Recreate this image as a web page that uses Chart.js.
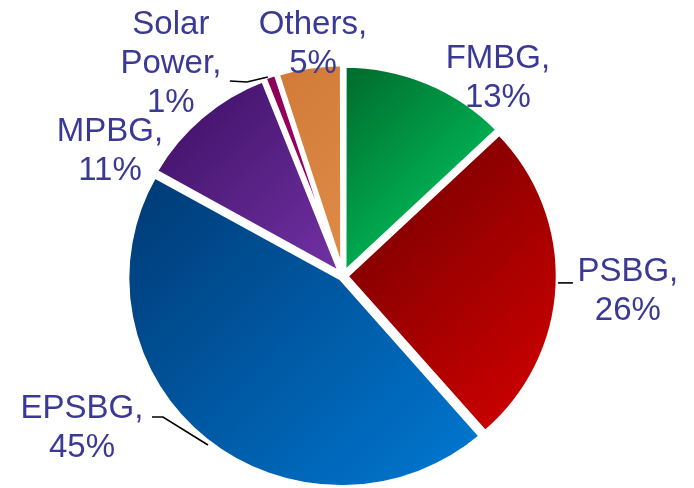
<!DOCTYPE html>
<html><head><meta charset="utf-8">
<script src="https://cdn.jsdelivr.net/npm/chart.js@4.4.1/dist/chart.umd.min.js"></script>
<style>html,body{margin:0;padding:0;background:#fff;}#wrap{width:694px;height:488px;}</style>
</head><body><div id="wrap"><canvas id="c" width="694" height="488"></canvas></div>
<script>
// ---- data ----
const categories = ['FMBG', 'PSBG', 'EPSBG', 'MPBG', 'Solar Power', 'Others'];
const shares = [13, 26, 45, 11, 1, 5];

// ---- styles ----
const darkColors  = ['#006a2c', '#8a0000', '#003c78', '#471670', '#8a0056', '#d27b39'];
const lightColors = ['#00aa50', '#c80000', '#0074cc', '#7131a3', '#b0006c', '#e08b47'];
const RADIUS = 207, OFFSET = 12, BORDER = 4.5;
const SHIFT = OFFSET / 4;      // Chart.js translates an arc by offset/4
const SX = 1.024;              // slight horizontal stretch of the pie
const LABEL_PAD = 5;
const FONT = '33px "Liberation Sans", Arial, sans-serif';
const LINE_H = 39;
const TEXT_COLOR = '#3a3a96';
// label block nudge from the slice's outer mid point
const labelNudge = [[69.5, -2.6], [68, 5.6], [-123.8, -12.3], [-90.6, 35], [-99.3, -12.7], [3.6, -21.9]];
// leader polylines relative to the slice's outer mid point
const leaders = [null, [[-1.9, -3], [13.1, -3]], [[2.2, 4.7], [-42.8, -23.3], [-53.8, -23.3]], null,
                 [[-2.3, 0.7], [-23.3, 5.7], [-40.3, 4.7]], null];

function labelLines(i) {
  const words = categories[i].split(' ');
  words[words.length - 1] += ',';
  return words.concat([shares[i] + '%']);
}

function sliceFill(c) {
  const i = c.dataIndex, chart = c.chart, area = chart.chartArea;
  if (!area) return darkColors[i];
  const cx = (area.left + area.right) / 2, cy = (area.top + area.bottom) / 2;
  const total = shares.reduce((a, b) => a + b, 0);
  let cum = 0; for (let k = 0; k < i; k++) cum += shares[k];
  const a0 = -Math.PI / 2 + 2 * Math.PI * cum / total;
  const a1 = a0 + 2 * Math.PI * shares[i] / total;
  const mid = (a0 + a1) / 2;
  const ox = cx + SHIFT * Math.cos(mid), oy = cy + SHIFT * Math.sin(mid);
  let mn = ox + oy, mx = ox + oy;
  for (let s = 0; s <= 32; s++) {
    const a = a0 + (a1 - a0) * s / 32;
    const v = ox + RADIUS * Math.cos(a) + oy + RADIUS * Math.sin(a);
    mn = Math.min(mn, v); mx = Math.max(mx, v);
  }
  const g = chart.ctx.createLinearGradient(mn / 2, mn / 2, mx / 2, mx / 2);
  g.addColorStop(0, darkColors[i]);
  g.addColorStop(1, lightColors[i]);
  return g;
}

const labelPlugin = {
  id: 'sliceLabels',
  beforeDatasetsDraw(chart) {
    const ctx = chart.ctx, a = chart.chartArea;
    const cx = (a.left + a.right) / 2;
    ctx.save();
    ctx.translate(cx, 0); ctx.scale(SX, 1); ctx.translate(-cx, 0);
  },
  afterDatasetsDraw(chart) {
    const ctx = chart.ctx, meta = chart.getDatasetMeta(0);
    ctx.restore();
    ctx.save();
    ctx.font = FONT; ctx.fillStyle = TEXT_COLOR;
    ctx.textAlign = 'center'; ctx.textBaseline = 'middle';
    ctx.strokeStyle = '#000'; ctx.lineWidth = 1.6;
    meta.data.forEach((arc, i) => {
      const p = arc.getProps(['x', 'y', 'startAngle', 'endAngle', 'outerRadius'], true);
      const mid = (p.startAngle + p.endAngle) / 2;
      const r = p.outerRadius + LABEL_PAD;
      const px = p.x + Math.cos(mid) * r * SX, py = p.y + Math.sin(mid) * r;
      const lines = labelLines(i);
      const bx = px + labelNudge[i][0], by = py + labelNudge[i][1];
      lines.forEach((t, k) => ctx.fillText(t, bx, by + (k - (lines.length - 1) / 2) * LINE_H));
      const ld = leaders[i];
      if (ld) {
        ctx.beginPath();
        ld.forEach(([lx, ly], k) => k ? ctx.lineTo(px + lx, py + ly) : ctx.moveTo(px + lx, py + ly));
        ctx.stroke();
      }
    });
    ctx.restore();
  }
};

new Chart(document.getElementById('c'), {
  type: 'pie',
  data: {
    labels: categories,
    datasets: [{
      data: shares,
      backgroundColor: sliceFill,
      borderColor: '#ffffff',
      borderWidth: BORDER,
      offset: OFFSET
    }]
  },
  options: {
    responsive: false,
    animation: false,
    events: [],
    radius: RADIUS,
    layout: { padding: { left: 0, right: 8, top: 64, bottom: 0 } },
    plugins: { legend: { display: false }, tooltip: { enabled: false }, title: { display: false } }
  },
  plugins: [labelPlugin]
});
</script>
</body></html>
